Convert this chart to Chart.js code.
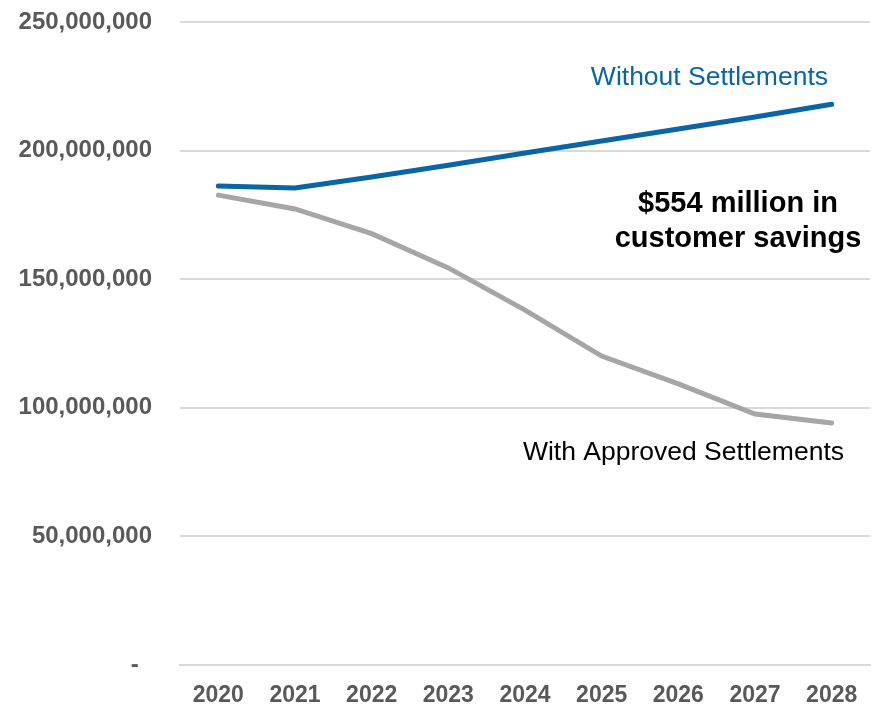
<!DOCTYPE html>
<html>
<head>
<meta charset="utf-8">
<script src="https://cdn.jsdelivr.net/npm/chart.js@4"></script>
<style>
  html, body { margin: 0; padding: 0; background: #fff; }
  #wrap { width: 875px; height: 705px; }
</style>
</head>
<body>
<div id="wrap"><canvas id="chart" width="875" height="705"></canvas></div>
<script>
const years = ['2020', '2021', '2022', '2023', '2024', '2025', '2026', '2027', '2028'];
const withoutSettlements = [186200000, 185500000, 189700000, 194300000, 199100000, 203700000, 208400000, 213100000, 218000000];
const withSettlements = [182700000, 177300000, 167700000, 154400000, 138000000, 120100000, 109300000, 97600000, 94100000];
const yTicks = [0, 50000000, 100000000, 150000000, 200000000, 250000000];

const BLUE = '#0a65a5';
const GRAY = '#a6a6a6';
const FONT = '"Liberation Sans", Arial, sans-serif';

// text labels drawn onto the chart
const annotations = {
    id: 'annotations',
    afterDraw(chart) {
        const ctx = chart.ctx;
        ctx.save();
        ctx.textBaseline = 'alphabetic';

        ctx.font = '26.5px ' + FONT;
        ctx.fillStyle = BLUE;
        ctx.textAlign = 'right';
        ctx.fillText('Without Settlements', 828, 85);

        ctx.fillStyle = '#000';
        ctx.fillText('With Approved Settlements', 844, 460);

        ctx.font = 'bold 29px ' + FONT;
        ctx.textAlign = 'center';
        ctx.fillText('$554 million in', 738, 212);
        ctx.fillText('customer savings', 738, 247);
        ctx.restore();
    }
};

const ctx = document.getElementById('chart').getContext('2d');
new Chart(ctx, {
    type: 'line',
    data: {
        labels: years,
        datasets: [{
            label: 'Without Settlements',
            data: withoutSettlements,
            borderColor: BLUE,
            borderWidth: 5,
            pointRadius: 0,
            borderCapStyle: 'round',
            tension: 0
        }, {
            label: 'With Approved Settlements',
            data: withSettlements,
            borderColor: GRAY,
            borderWidth: 5,
            pointRadius: 0,
            borderCapStyle: 'round',
            tension: 0
        }]
    },
    options: {
        responsive: false,
        animation: false,
        layout: { padding: { top: 22, right: 5, left: 0, bottom: 0 } },
        plugins: {
            legend: { display: false },
            tooltip: { enabled: false }
        },
        scales: {
            x: {
                offset: true,
                grid: { display: false, drawTicks: false },
                border: { display: true, color: '#d9d9d9', width: 2 },
                ticks: {
                    color: '#595959',
                    padding: 17,
                    maxRotation: 0,
                    autoSkip: false,
                    font: { family: FONT, size: 23, weight: 'bold' }
                },
                afterFit(scale) { scale.height = 40; }
            },
            y: {
                min: 0,
                max: 250000000,
                afterBuildTicks(scale) {
                    scale.ticks = yTicks.map(v => ({ value: v }));
                },
                // transparent tick marks make the gap between labels and plot
                grid: { color: '#d9d9d9', lineWidth: 2, drawTicks: true, tickLength: 28, tickColor: 'rgba(0,0,0,0)' },
                border: { display: false },
                ticks: {
                    color: '#595959',
                    padding: 0,
                    font: { family: FONT, size: 24, weight: 'bold' },
                    callback: function(value) {
                        return value === 0 ? '-  ' : value.toLocaleString('en-US');
                    }
                },
                afterFit(scale) { scale.width = 180; }
            }
        }
    },
    plugins: [annotations]
});
</script>
</body>
</html>
